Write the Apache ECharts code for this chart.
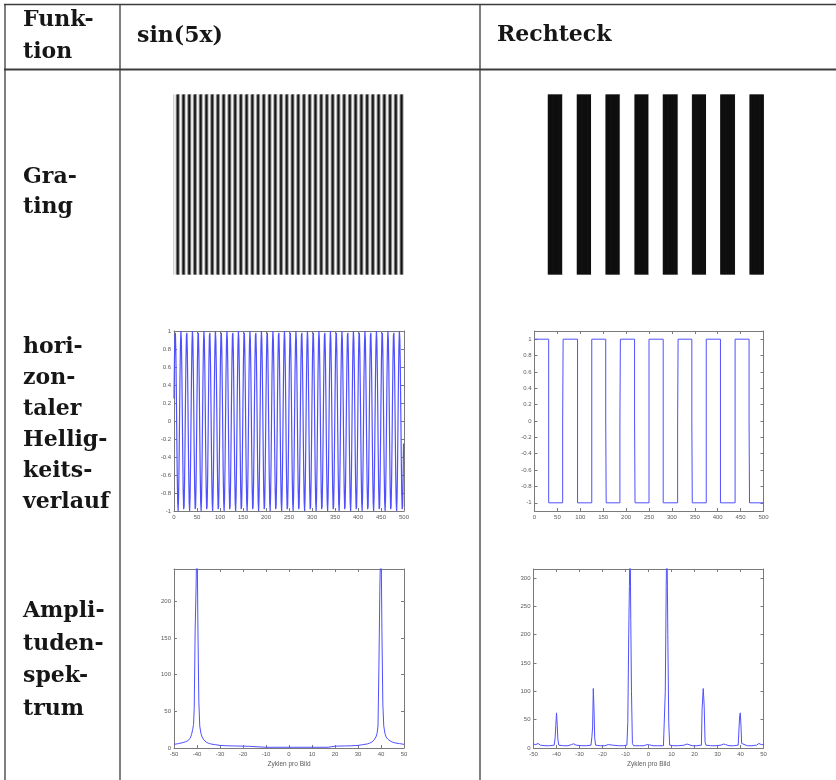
<!DOCTYPE html>
<html><head><meta charset="utf-8">
<script src="https://cdn.jsdelivr.net/npm/echarts@6/dist/echarts.min.js"></script>
<style>html,body{margin:0;padding:0;background:#fff}#c{width:836px;height:780px}</style>
</head><body><div id="c"></div><script>
// ---------- texts ----------
const headerLines = ['Funk-', 'tion'];
const columnTitles = ['sin(5x)', 'Rechteck'];
const rowLabels = [
  ['Gra-', 'ting'],
  ['hori-', 'zon-', 'taler', 'Hellig-', 'keits-', 'verlauf'],
  ['Ampli-', 'tuden-', 'spek-', 'trum']
];
const specAxisName = 'Zyklen pro Bild';

// ---------- tick labels ----------
const waveXTicks = [0, 50, 100, 150, 200, 250, 300, 350, 400, 450, 500];
const waveYTicks = [-1, -0.8, -0.6, -0.4, -0.2, 0, 0.2, 0.4, 0.6, 0.8, 1];
const specXTicks = [-50, -40, -30, -20, -10, 0, 10, 20, 30, 40, 50];
const sinSpecYTicks = [0, 50, 100, 150, 200];
const rectSpecYTicks = [0, 50, 100, 150, 200, 250, 300];

// ---------- sin(5x): 500 samples ----------
const sinValues = [
0.25,0.68,0.95,0.98,0.77,0.37,-0.13,-0.59,-0.9,-1,-0.84,-0.48,0,0.48,0.84,1,0.9,0.59,0.13,-0.37,-0.77,-0.98,-0.95,-0.68,-0.25,
0.25,0.68,0.95,0.98,0.77,0.37,-0.13,-0.59,-0.9,-1,-0.84,-0.48,0,0.48,0.84,1,0.9,0.59,0.13,-0.37,-0.77,-0.98,-0.95,-0.68,-0.25,
0.25,0.68,0.95,0.98,0.77,0.37,-0.13,-0.59,-0.9,-1,-0.84,-0.48,0,0.48,0.84,1,0.9,0.59,0.13,-0.37,-0.77,-0.98,-0.95,-0.68,-0.25,
0.25,0.68,0.95,0.98,0.77,0.37,-0.13,-0.59,-0.9,-1,-0.84,-0.48,0,0.48,0.84,1,0.9,0.59,0.13,-0.37,-0.77,-0.98,-0.95,-0.68,-0.25,
0.25,0.68,0.95,0.98,0.77,0.37,-0.13,-0.59,-0.9,-1,-0.84,-0.48,0,0.48,0.84,1,0.9,0.59,0.13,-0.37,-0.77,-0.98,-0.95,-0.68,-0.25,
0.25,0.68,0.95,0.98,0.77,0.37,-0.13,-0.59,-0.9,-1,-0.84,-0.48,0,0.48,0.84,1,0.9,0.59,0.13,-0.37,-0.77,-0.98,-0.95,-0.68,-0.25,
0.25,0.68,0.95,0.98,0.77,0.37,-0.13,-0.59,-0.9,-1,-0.84,-0.48,0,0.48,0.84,1,0.9,0.59,0.13,-0.37,-0.77,-0.98,-0.95,-0.68,-0.25,
0.25,0.68,0.95,0.98,0.77,0.37,-0.13,-0.59,-0.9,-1,-0.84,-0.48,0,0.48,0.84,1,0.9,0.59,0.13,-0.37,-0.77,-0.98,-0.95,-0.68,-0.25,
0.25,0.68,0.95,0.98,0.77,0.37,-0.13,-0.59,-0.9,-1,-0.84,-0.48,0,0.48,0.84,1,0.9,0.59,0.13,-0.37,-0.77,-0.98,-0.95,-0.68,-0.25,
0.25,0.68,0.95,0.98,0.77,0.37,-0.13,-0.59,-0.9,-1,-0.84,-0.48,0,0.48,0.84,1,0.9,0.59,0.13,-0.37,-0.77,-0.98,-0.95,-0.68,-0.25,
0.25,0.68,0.95,0.98,0.77,0.37,-0.13,-0.59,-0.9,-1,-0.84,-0.48,0,0.48,0.84,1,0.9,0.59,0.13,-0.37,-0.77,-0.98,-0.95,-0.68,-0.25,
0.25,0.68,0.95,0.98,0.77,0.37,-0.13,-0.59,-0.9,-1,-0.84,-0.48,0,0.48,0.84,1,0.9,0.59,0.13,-0.37,-0.77,-0.98,-0.95,-0.68,-0.25,
0.25,0.68,0.95,0.98,0.77,0.37,-0.13,-0.59,-0.9,-1,-0.84,-0.48,0,0.48,0.84,1,0.9,0.59,0.13,-0.37,-0.77,-0.98,-0.95,-0.68,-0.25,
0.25,0.68,0.95,0.98,0.77,0.37,-0.13,-0.59,-0.9,-1,-0.84,-0.48,0,0.48,0.84,1,0.9,0.59,0.13,-0.37,-0.77,-0.98,-0.95,-0.68,-0.25,
0.25,0.68,0.95,0.98,0.77,0.37,-0.13,-0.59,-0.9,-1,-0.84,-0.48,0,0.48,0.84,1,0.9,0.59,0.13,-0.37,-0.77,-0.98,-0.95,-0.68,-0.25,
0.25,0.68,0.95,0.98,0.77,0.37,-0.13,-0.59,-0.9,-1,-0.84,-0.48,0,0.48,0.84,1,0.9,0.59,0.13,-0.37,-0.77,-0.98,-0.95,-0.68,-0.25,
0.25,0.68,0.95,0.98,0.77,0.37,-0.13,-0.59,-0.9,-1,-0.84,-0.48,0,0.48,0.84,1,0.9,0.59,0.13,-0.37,-0.77,-0.98,-0.95,-0.68,-0.25,
0.25,0.68,0.95,0.98,0.77,0.37,-0.13,-0.59,-0.9,-1,-0.84,-0.48,0,0.48,0.84,1,0.9,0.59,0.13,-0.37,-0.77,-0.98,-0.95,-0.68,-0.25,
0.25,0.68,0.95,0.98,0.77,0.37,-0.13,-0.59,-0.9,-1,-0.84,-0.48,0,0.48,0.84,1,0.9,0.59,0.13,-0.37,-0.77,-0.98,-0.95,-0.68,-0.25,
0.25,0.68,0.95,0.98,0.77,0.37,-0.13,-0.59,-0.9,-1,-0.84,-0.48,0,0.48,0.84,1,0.9,0.59,0.13,-0.37,-0.77,-0.98,-0.95,-0.68,-0.25
];

// ---------- Rechteck: level switches (sample index) ----------
const rectEdges    = [31, 62, 94, 125, 156, 187, 219, 250, 281, 313, 344, 375, 406, 438, 469];
const rectZeroStep = [0,  1,  0,  0,   1,   1,   1,   0,   0,   1,   1,   0,   0,   0,   1];

// ---------- amplitude spectra ----------
const sinSpecX = [-50,-48,-46,-45,-44,-43,-42.4,-41.9,-41.5,-41.2,-40.8,-40.4,-40,-39.6,-39.2,-38.8,-38.3,-37.8,-37,-36,-35,-34,-32,-30,-27,-24,-20,-17.3,-17,
  -10,0,10,17,17.3,20,24,27,30,32,34,35,36,37,37.8,38.3,38.7,39.1,39.5,40,40.4,40.8,41.2,41.7,42.2,43,44,45,46,48,50];
const sinSpecY = [5,6,7.5,8.5,10,13,18,25,32,55,162,218,300,165,63,30,20,15,11,8,6.5,5.5,4.5,3.5,3,2.8,2.5,2.3,1,
  1,1,1,1,2.3,2.5,2.8,3,3.5,4.5,5.5,6.5,8,11,15,20,30,112,217,300,160,60,30,20,15,12,9.5,8,7,6,5];

const rectSpecX = [-50,-49,-48,-47,-45,-43,-41,-40.6,-40.3,-40,-39.7,-39.4,-39,-37,-35,-33.5,-32.6,-31.5,-29,-27,-25,-24.6,-24.3,-24,-23.7,-23.4,-23,
  -21,-19,-17.5,-16.7,-15.5,-13,-11,-9.4,-9,-8.6,-8.3,-8,-7.7,-7.4,-7,-6.5,-4,-2,-0.7,0.5,2,4,6.5,7,7.3,7.7,8,8.4,8.8,9.2,
  11,13,15.5,16.7,17.5,19,21,23,23.3,23.8,24.2,24.6,25,27,29,31.5,32.6,33.5,35,37,39,39.3,39.6,39.9,40.2,40.5,41,43,45,47,48,49,50];
const rectSpecY = [7,6,8,5,4,4,5,18,40,62,42,15,5,4,4,6,7.5,5,4,4,5,20,37,105,70,18,5,
  4,4,6,7,5,4,4,5,45,200,285,380,225,100,8,4,4,4,6,5.5,4,4,4,5,100,285,380,200,45,5,
  4,4,5,7,6,4,4,5,68,105,75,10,5,4,4,5,7,6,4,4,5,30,55,62,40,8,5,4,4,5,8,6,6];

// ---------- build series data ----------
const sinLine = sinValues.map((v, i) => [i, v]);
const rectLine = [[0, 1]];
let lvl = 1;
rectEdges.forEach((e, k) => {
  if (rectZeroStep[k]) {
    rectLine.push([e - 0.5, lvl], [e - 0.5, 0], [e + 0.5, 0], [e + 0.5, -lvl]);
  } else {
    rectLine.push([e, lvl], [e, -lvl]);
  }
  lvl = -lvl;
});
rectLine.push([500, lvl]);
const rectSamples = [];
for (let i = 0; i < 500; i++) {
  let L = 1, zero = false;
  rectEdges.forEach((e, k) => { if (e <= i) { L = -L; } if (e === i && rectZeroStep[k]) zero = true; });
  rectSamples.push(zero ? 0 : L);
}
const sinSpec = sinSpecX.map((x, i) => [x, sinSpecY[i]]);
const rectSpec = rectSpecX.map((x, i) => [x, rectSpecY[i]]);

// ---------- layout ----------
const grids = [
  {left: 173.5, top: 94.5, width: 229.5, height: 180},  // 0 grating sin
  {left: 533.5, top: 94.5, width: 230, height: 180},    // 1 grating rect
  {left: 174, top: 331, width: 230, height: 180},       // 2 sin wave
  {left: 534.5, top: 331, width: 229, height: 180},     // 3 rect wave
  {left: 174, top: 569, width: 230, height: 179},       // 4 sin spectrum
  {left: 533.5, top: 569, width: 230, height: 179}      // 5 rect spectrum
];

const boxColor = '#7a7a7a';
const lblStyle = {fontSize: 6, color: '#5a5a5a', fontFamily: 'Liberation Sans, Arial, sans-serif'};
const xAxes = [], yAxes = [];
function hiddenAxes(g) {
  xAxes.push({gridIndex: g, type: 'value', min: 0, max: 500, show: false});
  yAxes.push({gridIndex: g, type: 'value', min: 0, max: 1, show: false});
  return [xAxes.length - 1, yAxes.length - 1];
}
function boxAxes(g, xmin, xmax, xt, ymin, ymax, yt, xName) {
  const line = {show: true, onZero: false, lineStyle: {color: boxColor, width: 1}};
  const tick = (vals) => ({show: true, inside: true, length: 3, customValues: vals, lineStyle: {color: boxColor, width: 1}});
  xAxes.push({gridIndex: g, type: 'value', min: xmin, max: xmax, position: 'bottom',
    axisLine: line, axisTick: tick(xt), splitLine: {show: false},
    axisLabel: Object.assign({customValues: xt, margin: 3}, lblStyle),
    name: xName || '', nameLocation: 'middle', nameGap: 13,
    nameTextStyle: {fontSize: 6.5, color: '#5a5a5a', fontFamily: 'Liberation Sans, Arial, sans-serif'}});
  const xi = xAxes.length - 1;
  xAxes.push({gridIndex: g, type: 'value', min: xmin, max: xmax, position: 'top',
    axisLine: line, axisTick: tick(xt), splitLine: {show: false}, axisLabel: {show: false}});
  yAxes.push({gridIndex: g, type: 'value', min: ymin, max: ymax, position: 'left',
    axisLine: line, axisTick: tick(yt), splitLine: {show: false},
    axisLabel: Object.assign({customValues: yt, margin: 3}, lblStyle)});
  const yi = yAxes.length - 1;
  yAxes.push({gridIndex: g, type: 'value', min: ymin, max: ymax, position: 'right',
    axisLine: line, axisTick: tick(yt), splitLine: {show: false}, axisLabel: {show: false}});
  return [xi, yi];
}

function gratingSeries(axes, values) {
  return {
    type: 'custom', xAxisIndex: axes[0], yAxisIndex: axes[1], animation: false,
    data: values.map((v, i) => [i, v]),
    renderItem: (params, api) => {
      const i = api.value(0), v = api.value(1);
      const p0 = api.coord([i, 0]), p1 = api.coord([i + 1, 1]);
      const g = Math.round((v + 1) / 2 * 255);
      return {type: 'rect', shape: {x: p0[0], y: p1[1], width: p1[0] - p0[0] + 0.35, height: p0[1] - p1[1]},
        style: {fill: 'rgb(' + g + ',' + g + ',' + g + ')'}};
    }
  };
}
function lineSeries(axes, data, w) {
  return {type: 'line', xAxisIndex: axes[0], yAxisIndex: axes[1], data: data, symbol: 'none',
    showSymbol: false, clip: true, animation: false, z: 1, lineStyle: {color: '#5050ff', width: w || 1}};
}

const a0 = hiddenAxes(0);
const a1 = hiddenAxes(1);
const a2 = boxAxes(2, 0, 500, waveXTicks, -1, 1, waveYTicks);
const a3 = boxAxes(3, 0, 500, waveXTicks, -1.1, 1.1, waveYTicks);
const a4 = boxAxes(4, -50, 50, specXTicks, 0, 244, sinSpecYTicks, specAxisName);
const a5 = boxAxes(5, -50, 50, specXTicks, 0, 316, rectSpecYTicks, specAxisName);

const series = [
  gratingSeries(a0, sinValues),
  gratingSeries(a1, rectSamples),
  lineSeries(a2, sinLine, 1.2),
  lineSeries(a3, rectLine),
  lineSeries(a4, sinSpec),
  lineSeries(a5, rectSpec)
];

// ---------- table frame and texts ----------
const rule = '#3c3c3c';
const serif = {fontFamily: 'DejaVu Serif, serif', fontWeight: 'bold', fontSize: 22, fill: '#161616'};
const graphic = [
  {type: 'line', shape: {x1: 4, y1: 4.5, x2: 836, y2: 4.5}, style: {stroke: rule, lineWidth: 1.5}},
  {type: 'line', shape: {x1: 4, y1: 69.5, x2: 836, y2: 69.5}, style: {stroke: rule, lineWidth: 2}},
  {type: 'line', shape: {x1: 5, y1: 4, x2: 5, y2: 780}, style: {stroke: rule, lineWidth: 1.3}},
  {type: 'line', shape: {x1: 120, y1: 4, x2: 120, y2: 780}, style: {stroke: rule, lineWidth: 1.3}},
  {type: 'line', shape: {x1: 480, y1: 4, x2: 480, y2: 780}, style: {stroke: rule, lineWidth: 1.3}}
];
function addText(str, x, y) {
  graphic.push({type: 'text', x: x, y: y, style: Object.assign({text: str, align: 'left', verticalAlign: 'middle'}, serif)});
}
addText(headerLines[0], 23, 20.5);
addText(headerLines[1], 23, 52.5);
addText(columnTitles[0], 137, 36);
addText(columnTitles[1], 497, 35.5);
const rowStarts = [177, 347, 611.5];
const rowStep = [30, 31, 32.5];
rowLabels.forEach((lines, r) => lines.forEach((s, k) => addText(s, 23, rowStarts[r] + k * rowStep[r])));

const chart = echarts.init(document.getElementById('c'), null, {renderer: 'canvas'});
chart.setOption({
  backgroundColor: '#ffffff',
  animation: false,
  grid: grids,
  xAxis: xAxes,
  yAxis: yAxes,
  series: series,
  graphic: graphic
});
</script></body></html>
